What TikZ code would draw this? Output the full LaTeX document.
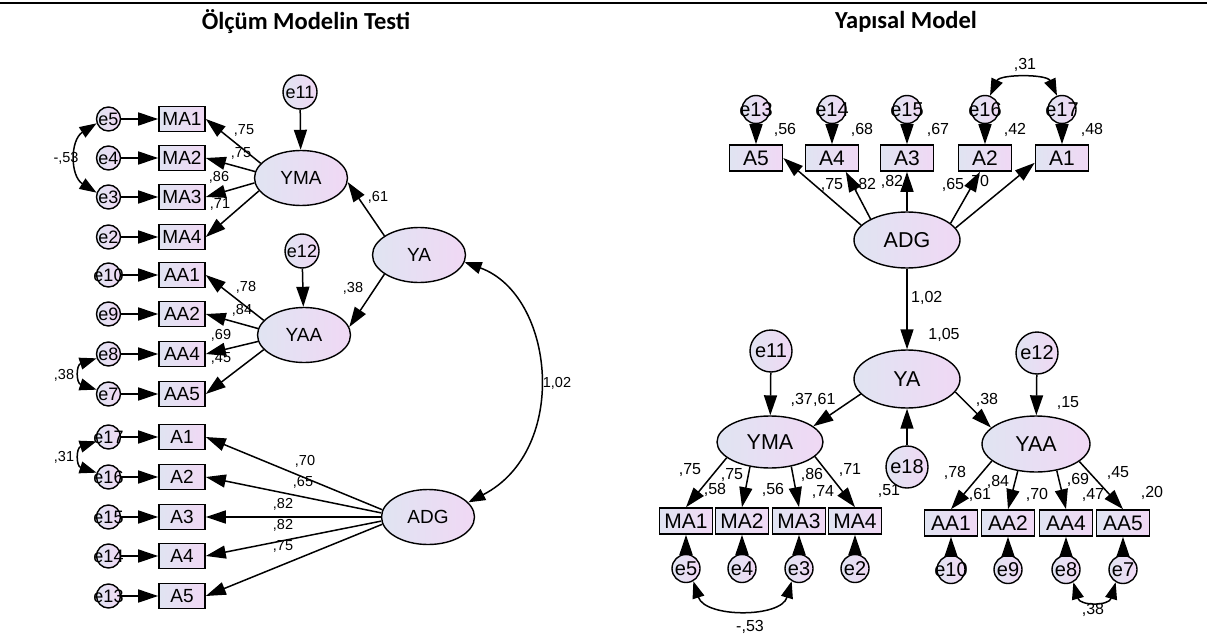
\documentclass[tikz,border=0pt]{standalone}
\usepackage{fontspec}
\setmainfont{Liberation Sans}
\newfontfamily\titlefont{Carlito}
\usetikzlibrary{shapes.geometric, arrows.meta, positioning}
\definecolor{semLeft}{RGB}{224,228,242}
\definecolor{semRight}{RGB}{240,216,244}
\newcommand{\etxt}[1]{\makebox[0pt]{#1}}

\begin{document}
\begin{tikzpicture}[
        x=1pt, y=-1pt,
        titletext/.style={font=\titlefont\bfseries\fontsize{24.5}{24.5}\selectfont, inner sep=0pt},
        latent/.style={ellipse, draw, line width=1.4pt, left color=semLeft, right color=semRight, inner sep=0pt},
        llat/.style={latent, minimum width=93pt, minimum height=55pt, font=\fontsize{19}{19}\selectfont},
        rlat/.style={latent, minimum width=106pt, minimum height=56pt, font=\fontsize{21.5}{21.5}\selectfont},
        litem/.style={rectangle, draw, line width=1.6pt, left color=semLeft, right color=semRight, minimum width=46pt, minimum height=25pt, inner sep=0pt, font=\fontsize{19}{19}\selectfont},
        ritem/.style={litem, minimum width=53pt, minimum height=26pt, font=\fontsize{21}{21}\selectfont},
        lerr/.style={circle, draw, line width=1.4pt, left color=semLeft, right color=semRight, minimum size=24pt, inner sep=0pt, font=\fontsize{18}{18}\selectfont},
        rerr/.style={lerr, minimum size=28pt, font=\fontsize{20}{20}\selectfont},
        lcoef/.style={inner sep=0pt, font=\fontsize{14.5}{14.5}\selectfont},
        rcoef/.style={inner sep=0pt, font=\fontsize{16}{16}\selectfont},
        arrow/.style={-{Triangle[length=20pt, width=13pt]}, line width=1.5pt},
        dblarrow/.style={{Triangle[length=17pt, width=12pt]}-{Triangle[length=17pt, width=12pt]}, line width=1.5pt}
    ]
        \useasboundingbox (0,0) rectangle (1207,634);
        \draw[line width=2.5pt] (0,3) -- (1207,3);

        % Titles
        \node[titletext] (ltitle) at (306,22) {Ölçüm Modelin Testi};
        \node[titletext] (rtitle) at (906,22) {Yapısal Model};

        % Left: indicators
        \node[litem] (lMA1) at (182,119) {MA1};
        \node[litem] (lMA2) at (182,158) {MA2};
        \node[litem] (lMA3) at (182,197) {MA3};
        \node[litem] (lMA4) at (182,237) {MA4};
        \node[litem] (lAA1) at (182,275) {AA1};
        \node[litem] (lAA2) at (182,314) {AA2};
        \node[litem] (lAA4) at (182,354) {AA4};
        \node[litem] (lAA5) at (182,394) {AA5};
        \node[litem] (lA1) at (182,437) {A1};
        \node[litem] (lA2) at (182,477) {A2};
        \node[litem] (lA3) at (182,517) {A3};
        \node[litem] (lA4) at (182,556) {A4};
        \node[litem] (lA5) at (182,596) {A5};

        % Left: error terms
        \node[lerr, left=37pt of lMA1] (le5) {\etxt{e5}};
        \node[lerr, left=37pt of lMA2] (le4) {\etxt{e4}};
        \node[lerr, left=37pt of lMA3] (le3) {\etxt{e3}};
        \node[lerr, left=37pt of lMA4] (le2) {\etxt{e2}};
        \node[lerr, left=37pt of lAA1] (le10) {\etxt{e10}};
        \node[lerr, left=37pt of lAA2] (le9) {\etxt{e9}};
        \node[lerr, left=37pt of lAA4] (le8) {\etxt{e8}};
        \node[lerr, left=37pt of lAA5] (le7) {\etxt{e7}};
        \node[lerr, left=37pt of lA1] (le17) {\etxt{e17}};
        \node[lerr, left=37pt of lA2] (le16) {\etxt{e16}};
        \node[lerr, left=37pt of lA3] (le15) {\etxt{e15}};
        \node[lerr, left=37pt of lA4] (le14) {\etxt{e14}};
        \node[lerr, left=37pt of lA5] (le13) {\etxt{e13}};

        % Left: latent variables
        \node[llat] (lYMA) at (301,178) {YMA};
        \node[llat] (lYAA) at (304,335) {YAA};
        \node[llat] (lYA) at (419,255) {YA};
        \node[llat] (lADG) at (428,517) {ADG};
        \node[lerr, minimum size=34pt] (le11) at (300,92) {\etxt{e11}};
        \node[lerr, minimum size=34pt] (le12) at (302,251) {\etxt{e12}};

        % Left: paths
        \draw[arrow] (le5) -- (lMA1);
        \draw[arrow] (le4) -- (lMA2);
        \draw[arrow] (le3) -- (lMA3);
        \draw[arrow] (le2) -- (lMA4);
        \draw[arrow] (le10) -- (lAA1);
        \draw[arrow] (le9) -- (lAA2);
        \draw[arrow] (le8) -- (lAA4);
        \draw[arrow] (le7) -- (lAA5);
        \draw[arrow] (le17) -- (lA1);
        \draw[arrow] (le16) -- (lA2);
        \draw[arrow] (le15) -- (lA3);
        \draw[arrow] (le14) -- (lA4);
        \draw[arrow] (le13) -- (lA5);
        \draw[arrow] (lYMA.160) -- (lMA1.east);
        \draw[arrow] (lYMA.172) -- (lMA2.east);
        \draw[arrow] (lYMA.186) -- (lMA3.east);
        \draw[arrow] (lYMA.197) -- (lMA4.east);
        \draw[arrow] (lYAA.160) -- (lAA1.east);
        \draw[arrow] (lYAA.172) -- (lAA2.east);
        \draw[arrow] (lYAA.188) -- (lAA4.east);
        \draw[arrow] (lYAA.200) -- (lAA5.east);
        \draw[arrow] (lADG.171) -- (lA1.east);
        \draw[arrow] (lADG.175) -- (lA2.east);
        \draw[arrow] (lADG.180) -- (lA3.east);
        \draw[arrow] (lADG.185) -- (lA4.east);
        \draw[arrow] (lADG.189) -- (lA5.east);
        \draw[arrow] (le11) -- (lYMA);
        \draw[arrow] (le12) -- (lYAA);
        \draw[arrow] (lYA.151) -- (lYMA.-5);
        \draw[arrow] (lYA.209) -- (lYAA.10);
        \draw[dblarrow] (lYA.-9) .. controls (555,295) and (570,450) .. (lADG.20);
        \draw[dblarrow] (le5.200) .. controls (70,140) and (70,176) .. (le3.160);
        \draw[dblarrow] (le8.200) .. controls (76,365) and (76,383) .. (le7.160);
        \draw[dblarrow] (le17.200) .. controls (76,448) and (76,466) .. (le16.160);

        % Left: estimates
        \node[lcoef] (lc1) at (244,130) {,75};
        \node[lcoef] (lc2) at (241,153) {,75};
        \node[lcoef] (lc3) at (219,177) {,86};
        \node[lcoef] (lc4) at (220,204) {,71};
        \node[lcoef] (lc5) at (246,287) {,78};
        \node[lcoef] (lc6) at (242,310) {,84};
        \node[lcoef] (lc7) at (221,335) {,69};
        \node[lcoef] (lc8) at (221,358) {,45};
        \node[lcoef] (lc9) at (305,461) {,70};
        \node[lcoef] (lc10) at (303,482) {,65};
        \node[lcoef] (lc11) at (283,504) {,82};
        \node[lcoef] (lc12) at (283,525) {,82};
        \node[lcoef] (lc13) at (283,546) {,75};
        \node[lcoef] (lc14) at (378,197) {,61};
        \node[lcoef] (lc15) at (353,288) {,38};
        \node[lcoef] (lc16) at (557,383) {1,02};
        \node[lcoef] (lc17) at (66,158) {-,53};
        \node[lcoef] (lc18) at (64,375) {,38};
        \node[lcoef] (lc19) at (64,457) {,31};

        % Right: indicators
        \node[ritem] (rA5) at (756,158) {A5};
        \node[ritem] (rA4) at (832,158) {A4};
        \node[ritem] (rA3) at (907,158) {A3};
        \node[ritem] (rA2) at (985,158) {A2};
        \node[ritem] (rA1) at (1062,158) {A1};
        \node[ritem] (rMA1) at (686,521) {MA1};
        \node[ritem] (rMA2) at (742,521) {MA2};
        \node[ritem] (rMA3) at (799,521) {MA3};
        \node[ritem] (rMA4) at (855,521) {MA4};
        \node[ritem] (rAA1) at (951,523) {AA1};
        \node[ritem] (rAA2) at (1008,523) {AA2};
        \node[ritem] (rAA4) at (1066,523) {AA4};
        \node[ritem] (rAA5) at (1123,523) {AA5};

        % Right: error terms
        \node[rerr, above=20pt of rA5] (re13) {\etxt{e13}};
        \node[rerr, above=20pt of rA4] (re14) {\etxt{e14}};
        \node[rerr, above=20pt of rA3] (re15) {\etxt{e15}};
        \node[rerr, above=20pt of rA2] (re16) {\etxt{e16}};
        \node[rerr, above=20pt of rA1] (re17) {\etxt{e17}};
        \node[rerr, below=19pt of rMA1] (re5) {\etxt{e5}};
        \node[rerr, below=19pt of rMA2] (re4) {\etxt{e4}};
        \node[rerr, below=19pt of rMA3] (re3) {\etxt{e3}};
        \node[rerr, below=19pt of rMA4] (re2) {\etxt{e2}};
        \node[rerr, below=18pt of rAA1] (re10) {\etxt{e10}};
        \node[rerr, below=18pt of rAA2] (re9) {\etxt{e9}};
        \node[rerr, below=18pt of rAA4] (re8) {\etxt{e8}};
        \node[rerr, below=18pt of rAA5] (re7) {\etxt{e7}};

        % Right: latent variables
        \node[rlat] (rADG) at (907,240) {ADG};
        \node[rlat, minimum height=58pt] (rYA) at (907,379) {YA};
        \node[rlat, minimum height=52pt] (rYMA) at (770,442) {YMA};
        \node[rlat, minimum width=108pt] (rYAA) at (1036,444) {YAA};
        \node[rerr, minimum size=42pt] (re11) at (771,351) {\etxt{e11}};
        \node[rerr, minimum size=42pt] (re12) at (1037,353) {\etxt{e12}};
        \node[rerr, minimum size=42pt] (re18) at (907,467) {\etxt{e18}};

        % Right: paths
        \draw[arrow] (re13) -- (rA5);
        \draw[arrow] (re14) -- (rA4);
        \draw[arrow] (re15) -- (rA3);
        \draw[arrow] (re16) -- (rA2);
        \draw[arrow] (re17) -- (rA1);
        \draw[arrow] (re5) -- (rMA1);
        \draw[arrow] (re4) -- (rMA2);
        \draw[arrow] (re3) -- (rMA3);
        \draw[arrow] (re2) -- (rMA4);
        \draw[arrow] (re10) -- (rAA1);
        \draw[arrow] (re9) -- (rAA2);
        \draw[arrow] (re8) -- (rAA4);
        \draw[arrow] (re7) -- (rAA5);
        \draw[arrow] (rADG.162) -- (rA5.east);
        \draw[arrow] (rADG.150) -- (rA4.-45);
        \draw[arrow] (rADG) -- (rA3);
        \draw[arrow] (rADG.21) -- (rA2.-110);
        \draw[arrow] (rADG.14) -- (rA1.190);
        \draw[arrow] (rADG) -- (rYA);
        \draw[arrow] (re18) -- (rYA);
        \draw[arrow] (re11) -- (rYMA);
        \draw[arrow] (re12) -- (rYAA);
        \draw[arrow] (rYA.198) -- (rYMA.20);
        \draw[arrow] (rYA.-15) -- (rYAA.160);
        \draw[arrow] (rYMA.200) -- (rMA1.north);
        \draw[arrow] (rYMA.231) -- (rMA2.north);
        \draw[arrow] (rYMA.311) -- (rMA3.north);
        \draw[arrow] (rYMA.342) -- (rMA4.north);
        \draw[arrow] (rYAA.201) -- (rAA1.north);
        \draw[arrow] (rYAA.236) -- (rAA2.north);
        \draw[arrow] (rYAA.308) -- (rAA4.north);
        \draw[arrow] (rYAA.338) -- (rAA5.north);
        \draw[dblarrow] (re16.70) .. controls (1000,74) and (1047,74) .. (re17.110);
        \draw[dblarrow] (re5.-60) .. controls (705,618) and (781,618) .. (re3.-120);
        \draw[dblarrow] (re8.-60) .. controls (1080,606) and (1109,606) .. (re7.-120);

        % Right: estimates
        \node[rcoef] (rc1) at (785,130) {,56};
        \node[rcoef] (rc2) at (862,130) {,68};
        \node[rcoef] (rc3) at (938,130) {,67};
        \node[rcoef] (rc4) at (1015,130) {,42};
        \node[rcoef] (rc5) at (1092,130) {,48};
        \node[rcoef] (rc6) at (1025,65) {,31};
        \node[rcoef] (rc7) at (832,185) {,75};
        \node[rcoef] (rc8) at (865,185) {,82};
        \node[rcoef] (rc9) at (892,182) {,82};
        \node[rcoef] (rc10) at (953,185) {,65};
        \node[rcoef] (rc11) at (978,182) {,70};
        \node[rcoef, anchor=west] (rc12) at (911,298) {1,02};
        \node[rcoef] (rc13) at (944,335) {1,05};
        \node[rcoef, anchor=east] (rc14) at (813,400) {,37};
        \node[rcoef, anchor=west] (rc15) at (813,400) {,61};
        \node[rcoef] (rc16) at (987,400) {,38};
        \node[rcoef] (rc17) at (1068,403) {,15};
        \node[rcoef] (rc18) at (690,470) {,75};
        \node[rcoef] (rc19) at (732,475) {,75};
        \node[rcoef] (rc20) at (812,475) {,86};
        \node[rcoef] (rc21) at (850,470) {,71};
        \node[rcoef] (rc22) at (715,490) {,58};
        \node[rcoef] (rc23) at (773,490) {,56};
        \node[rcoef] (rc24) at (823,492) {,74};
        \node[rcoef] (rc25) at (889,491) {,51};
        \node[rcoef] (rc26) at (955,473) {,78};
        \node[rcoef] (rc27) at (998,482) {,84};
        \node[rcoef] (rc28) at (1078,480) {,69};
        \node[rcoef] (rc29) at (1118,473) {,45};
        \node[rcoef] (rc30) at (980,495) {,61};
        \node[rcoef] (rc31) at (1037,495) {,70};
        \node[rcoef] (rc32) at (1093,495) {,47};
        \node[rcoef] (rc33) at (1152,493) {,20};
        \node[rcoef] (rc34) at (750,627) {-,53};
        \node[rcoef] (rc35) at (1093,610) {,38};
    \end{tikzpicture}
\end{document}
